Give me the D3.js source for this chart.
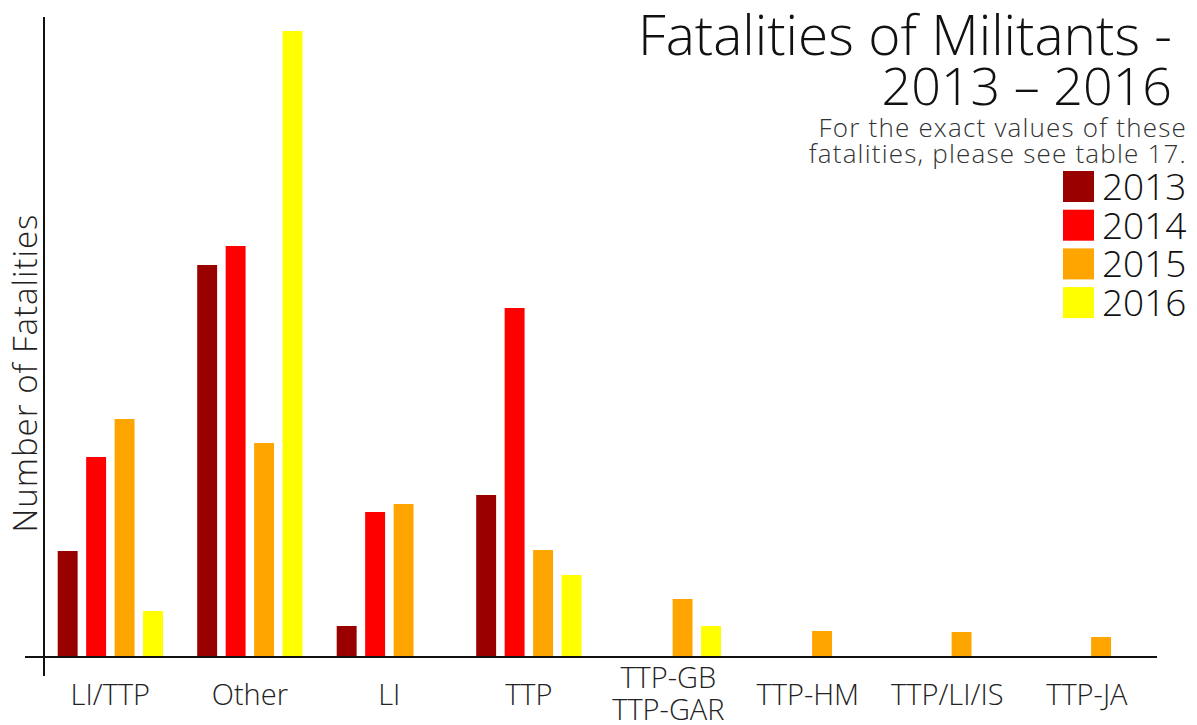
<!DOCTYPE html>
<meta charset="utf-8">
<style>
    body { margin: 0; background: #fff; }
    svg { background-color: #fff; font-family: "Open Sans", sans-serif; }
    .tick-label { font-size: 29px; fill: #222; font-weight: 300; }
</style>

<body>
    <svg width="1197" height="725"></svg>
    <script src="https://d3js.org/d3.v7.min.js"></script>
    <script>
        // groups along the x axis (the fifth one is two lines)
        var categories = ["LI/TTP", "Other", "LI", "TTP", "TTP-GB\nTTP-GAR", "TTP-HM", "TTP/LI/IS", "TTP-JA"];
        var years = ["2013", "2014", "2015", "2016"];

        // fatalities per group (no axis ticks in the original)
        var fat2013 = [106, 392, 31, 162, 0, 0, 0, 0];
        var fat2014 = [200, 411, 145, 349, 0, 0, 0, 0];
        var fat2015 = [238, 214, 153, 107, 58, 26, 25, 20];
        var fat2016 = [46, 626, 0, 82, 31, 0, 0, 0];

        var colors = ["#990000", "#ff0000", "#ffa500", "#ffff00"];

        var series = [fat2013, fat2014, fat2015, fat2016];
        var rows = categories.map(function (c, i) {
            return { cat: c, vals: years.map(function (y, j) { return { year: y, v: series[j][i] }; }) };
        });

        var svg = d3.select("svg");

        var x0 = d3.scaleBand().domain(categories).range([40.6, 1156.6]).padding(0);
        var x1 = d3.scaleBand().domain(years).range([17.1, 122.4]).paddingInner(0.3).paddingOuter(0);
        var y = d3.scaleLinear().domain([0, 626]).range([657, 31]);
        var color = d3.scaleOrdinal().domain(years).range(colors);

        // bars
        var groups = svg.append("g").selectAll("g")
            .data(rows)
            .enter().append("g")
            .attr("transform", function (d) { return "translate(" + x0(d.cat) + ",0)"; });

        groups.selectAll("rect")
            .data(function (d) { return d.vals.filter(function (e) { return e.v > 0; }); })
            .enter().append("rect")
            .attr("x", function (d) { return x1(d.year); })
            .attr("width", x1.bandwidth())
            .attr("y", function (d) { return y(d.v); })
            .attr("height", function (d) { return y(0) - y(d.v); })
            .style("fill", function (d) { return color(d.year); });

        // axes - plain lines, no ticks
        svg.append("line")
            .attr("x1", 25).attr("x2", 1157)
            .attr("y1", y(0)).attr("y2", y(0))
            .style("stroke", "#111").style("stroke-width", 2);
        svg.append("line")
            .attr("x1", 44).attr("x2", 44)
            .attr("y1", 17).attr("y2", 676)
            .style("stroke", "#111").style("stroke-width", 2);

        // category labels
        svg.append("g").selectAll("text")
            .data(categories)
            .enter().append("text")
            .attr("class", "tick-label")
            .attr("text-anchor", "middle")
            .attr("x", function (d) { return x0(d) + x0.bandwidth() / 2; })
            .attr("y", function (d) { return d.indexOf("\n") >= 0 ? 688 : 705; })
            .each(function (d) {
                var parts = d.split("\n");
                var t = d3.select(this);
                parts.forEach(function (p, i) {
                    t.append("tspan")
                        .attr("x", t.attr("x"))
                        .attr("dy", i === 0 ? 0 : 32)
                        .text(p);
                });
            });

        // y label
        svg.append("text")
            .attr("transform", "translate(37,373) rotate(-90)")
            .attr("text-anchor", "middle")
            .style("font-size", "33px")
            .style("letter-spacing", "1px")
            .style("font-weight", 300)
            .style("fill", "#222")
            .text("Number of Fatalities");

        // title block, right aligned
        var right = 1172;
        svg.append("text")
            .attr("x", right).attr("y", 55)
            .attr("text-anchor", "end")
            .style("font-size", "55px").style("font-weight", 300).style("fill", "#111")
            .text("Fatalities of Militants -");
        svg.append("text")
            .attr("x", right).attr("y", 105)
            .attr("text-anchor", "end")
            .style("font-size", "52px").style("font-weight", 300).style("fill", "#111")
            .text("2013 \u2013 2016");
        svg.append("text")
            .attr("x", 1187).attr("y", 137)
            .attr("text-anchor", "end")
            .style("font-size", "26px").style("letter-spacing", "1.2px")
            .style("font-weight", 300).style("fill", "#333")
            .text("For the exact values of these");
        svg.append("text")
            .attr("x", 1187).attr("y", 163)
            .attr("text-anchor", "end")
            .style("font-size", "26px").style("letter-spacing", "1.2px")
            .style("font-weight", 300).style("fill", "#333")
            .text("fatalities, please see table 17.");

        // legend
        var legend = svg.append("g").selectAll("g")
            .data(years)
            .enter().append("g")
            .attr("transform", function (d, i) { return "translate(1063," + (171 + i * 38.7) + ")"; });
        legend.append("rect")
            .attr("width", 31).attr("height", 31)
            .style("fill", function (d) { return color(d); });
        legend.append("text")
            .attr("x", 39).attr("y", 29)
            .style("font-size", "37px").style("font-weight", 300).style("fill", "#111")
            .text(function (d) { return d; });
    </script>
</body>
